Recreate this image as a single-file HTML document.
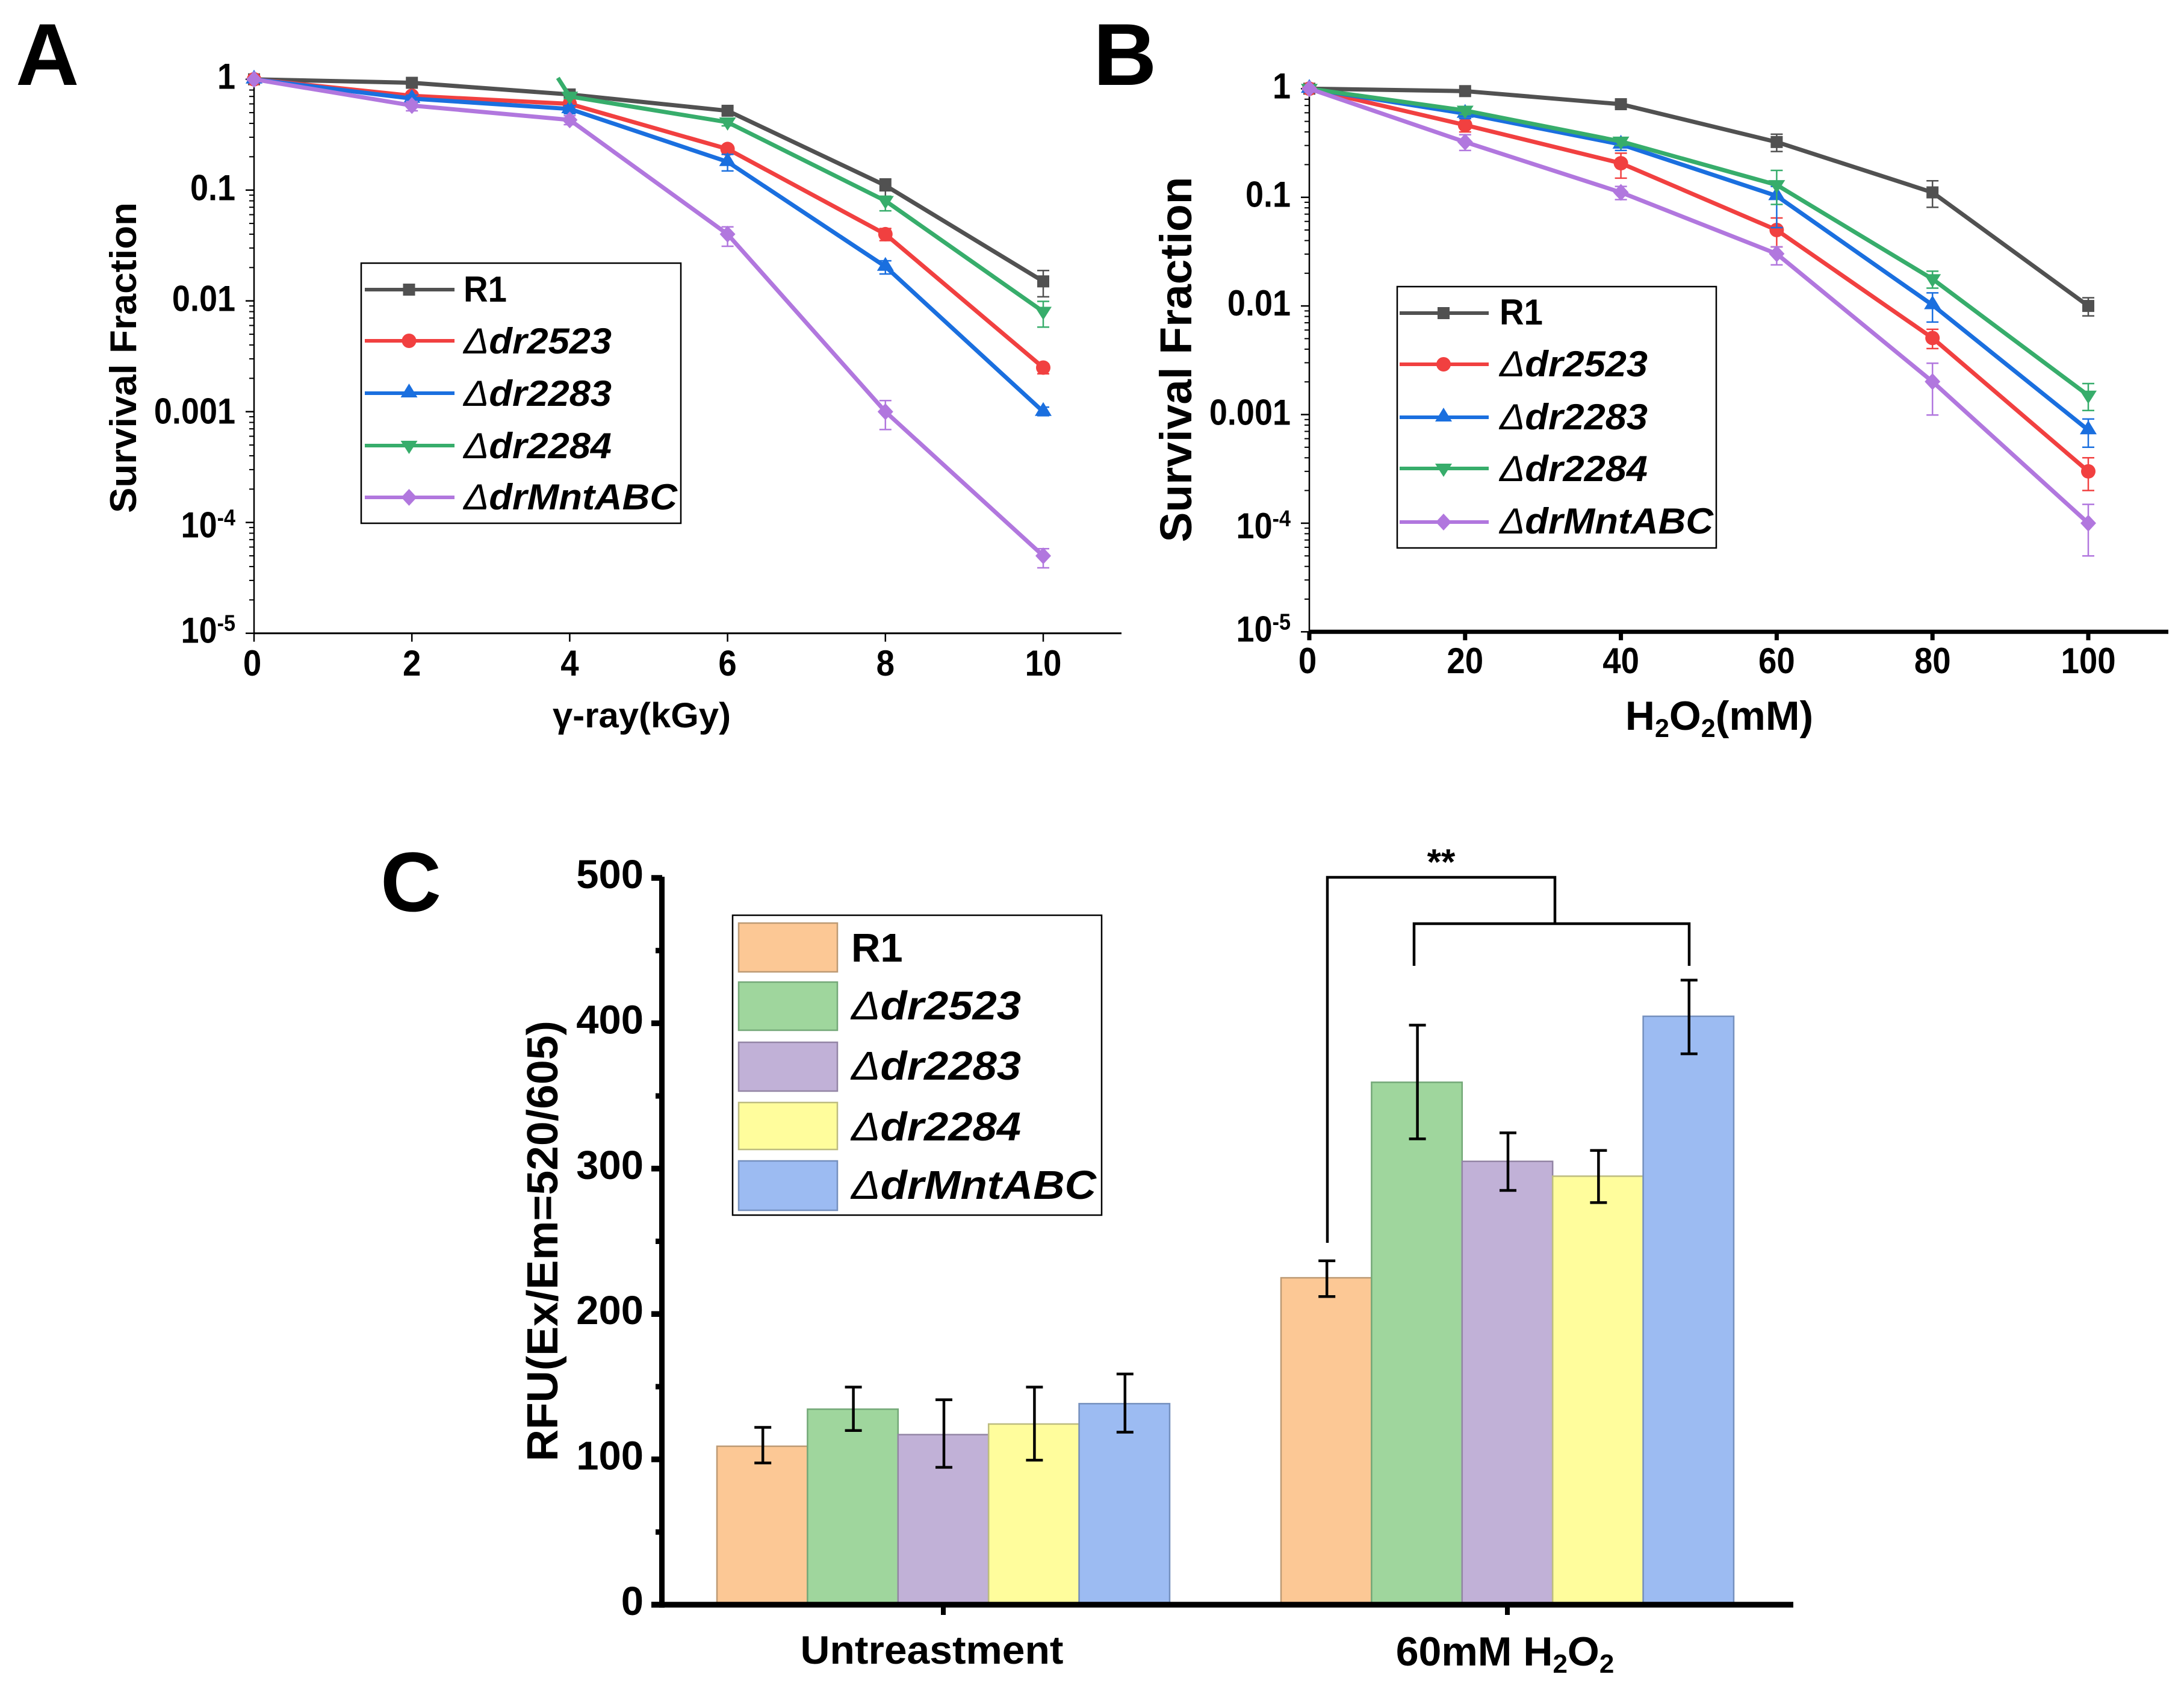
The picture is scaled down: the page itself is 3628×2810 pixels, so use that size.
<!DOCTYPE html>
<html lang="en">
<head>
<meta charset="utf-8">
<title>Survival fraction and RFU charts</title>
<style>
html,body{margin:0;padding:0;background:#fff;}
svg{display:block;}
text{font-family:"Liberation Sans",sans-serif;font-weight:bold;fill:#000;}
.it{font-style:italic;}
.thin{font-weight:normal;}
</style>
</head>
<body>
<svg id="fig" xmlns="http://www.w3.org/2000/svg" width="3628" height="2810" viewBox="0 0 3628 2810">
  <rect x="0" y="0" width="3628" height="2810" fill="#ffffff"/>

  <text x="26" y="141" font-size="146">A</text>
  <text x="1816" y="141" font-size="146">B</text>
  <text x="632" y="1513" font-size="140">C</text>

  <g id="panelA"></g>
  <g id="panelB"></g>
  <g id="panelC"></g>

  <text transform="translate(226,594) rotate(-90)" text-anchor="middle" font-size="62" textLength="516" lengthAdjust="spacingAndGlyphs">Survival Fraction</text>
  <text x="1066" y="1208" text-anchor="middle" font-size="58" textLength="296" lengthAdjust="spacingAndGlyphs">γ-ray(kGy)</text>
  <text transform="translate(1979,597) rotate(-90)" text-anchor="middle" font-size="74" textLength="607" lengthAdjust="spacingAndGlyphs">Survival Fraction</text>
  <text x="2856" y="1212" text-anchor="middle" font-size="68">H<tspan font-size="43" dy="12">2</tspan><tspan dy="-12">O</tspan><tspan font-size="43" dy="12">2</tspan><tspan dy="-12">(mM)</tspan></text>
  <text transform="translate(926,2061) rotate(-90)" text-anchor="middle" font-size="72" textLength="732" lengthAdjust="spacingAndGlyphs">RFU(Ex/Em=520/605)</text>
  <text x="1548" y="2763" text-anchor="middle" font-size="66" textLength="437" lengthAdjust="spacingAndGlyphs">Untreastment</text>
  <text x="2500" y="2766" text-anchor="middle" font-size="68">60mM H<tspan font-size="44" dy="12">2</tspan><tspan dy="-12">O</tspan><tspan font-size="44" dy="12">2</tspan></text>

  <g>
    <rect x="600" y="437" width="531" height="432" fill="#fff" stroke="#000" stroke-width="2.5"/>
    <g id="legendHandlesA"></g>
    <text x="770" y="501" font-size="60" textLength="72" lengthAdjust="spacingAndGlyphs">R1</text>
    <text class="it" x="770" y="587" font-size="60" textLength="246" lengthAdjust="spacingAndGlyphs"><tspan class="thin">Δ</tspan>dr2523</text>
    <text class="it" x="770" y="674" font-size="60" textLength="246" lengthAdjust="spacingAndGlyphs"><tspan class="thin">Δ</tspan>dr2283</text>
    <text class="it" x="770" y="761" font-size="60" textLength="246" lengthAdjust="spacingAndGlyphs"><tspan class="thin">Δ</tspan>dr2284</text>
    <text class="it" x="770" y="846" font-size="60" textLength="355" lengthAdjust="spacingAndGlyphs"><tspan class="thin">Δ</tspan>drMntABC</text>
  </g>

  <g>
    <rect x="2321" y="476" width="530" height="434" fill="#fff" stroke="#000" stroke-width="2.5"/>
    <g id="legendHandlesB"></g>
    <text x="2491" y="539" font-size="60" textLength="72" lengthAdjust="spacingAndGlyphs">R1</text>
    <text class="it" x="2491" y="625" font-size="60" textLength="246" lengthAdjust="spacingAndGlyphs"><tspan class="thin">Δ</tspan>dr2523</text>
    <text class="it" x="2491" y="713" font-size="60" textLength="246" lengthAdjust="spacingAndGlyphs"><tspan class="thin">Δ</tspan>dr2283</text>
    <text class="it" x="2491" y="799" font-size="60" textLength="246" lengthAdjust="spacingAndGlyphs"><tspan class="thin">Δ</tspan>dr2284</text>
    <text class="it" x="2491" y="886" font-size="60" textLength="355" lengthAdjust="spacingAndGlyphs"><tspan class="thin">Δ</tspan>drMntABC</text>
  </g>

  <g>
    <rect x="1217" y="1520" width="613" height="498" fill="#fff" stroke="#000" stroke-width="2.5"/>
    <rect x="1227" y="1533" width="164" height="81" fill="#FCC895" stroke="#BD9A74" stroke-width="2.5"/>
    <rect x="1227" y="1631" width="164" height="80" fill="#9FD69D" stroke="#74A878" stroke-width="2.5"/>
    <rect x="1227" y="1731" width="164" height="81" fill="#C1B1D7" stroke="#9385A5" stroke-width="2.5"/>
    <rect x="1227" y="1831" width="164" height="78" fill="#FFFD9C" stroke="#BDBC80" stroke-width="2.5"/>
    <rect x="1227" y="1928" width="164" height="82" fill="#9CBBF2" stroke="#7590BE" stroke-width="2.5"/>
    <text x="1414" y="1597" font-size="67">R1</text>
    <text class="it" x="1414" y="1693" font-size="67" textLength="282" lengthAdjust="spacingAndGlyphs"><tspan class="thin">Δ</tspan>dr2523</text>
    <text class="it" x="1414" y="1793" font-size="67" textLength="282" lengthAdjust="spacingAndGlyphs"><tspan class="thin">Δ</tspan>dr2283</text>
    <text class="it" x="1414" y="1894" font-size="67" textLength="282" lengthAdjust="spacingAndGlyphs"><tspan class="thin">Δ</tspan>dr2284</text>
    <text class="it" x="1414" y="1991" font-size="67" textLength="407" lengthAdjust="spacingAndGlyphs"><tspan class="thin">Δ</tspan>drMntABC</text>
  </g>

  <g fill="none" stroke="#000" stroke-width="4.5">
    <polyline points="2205,2064 2205,1457 2583,1457 2583,1534"/>
    <polyline points="2349,1604 2349,1534 2806,1534 2806,1604"/>
  </g>
  <text x="2394" y="1452" text-anchor="middle" font-size="60">**</text>
</svg>

<script>
/* ---------- shared ---------- */
const seriesNames = ['r1', 'dr2523', 'dr2283', 'dr2284', 'drmntabc'];
const seriesColors = ['#515151', '#F14040', '#1A6FDF', '#37AD6B', '#B177DE'];
const seriesMarkers = ['square', 'circle', 'triangle', 'triangle-down', 'diamond'];

/* ---------- panel A: gamma-ray survival ---------- */
const gammaTicks = [0, 2, 4, 6, 8, 10];
const gammaR1Dose = [0, 2, 4, 6, 8, 10];
const gammaR1 = [1, 0.93, 0.73, 0.52, 0.11, 0.015];
const gammaR1Hi = [1, 0.96, 0.77, 0.56, 0.126, 0.0188];
const gammaR1Lo = [1, 0.89, 0.69, 0.48, 0.0877, 0.0109];
const gammaDr2523Dose = [0, 2, 4, 6, 8, 10];
const gammaDr2523 = [1, 0.71, 0.6, 0.235, 0.04, 0.0025];
const gammaDr2523Hi = [1, 0.76, 0.64, 0.25, 0.045, 0.0027];
const gammaDr2523Lo = [1, 0.66, 0.56, 0.21, 0.035, 0.0022];
const gammaDr2283Dose = [0, 2, 4, 6, 8, 10];
const gammaDr2283 = [1, 0.67, 0.54, 0.18, 0.0204, 0.001];
const gammaDr2283Hi = [1, 0.72, 0.58, 0.21, 0.023, 0.0011];
const gammaDr2283Lo = [1, 0.6, 0.49, 0.149, 0.0175, 0.00092];
const gammaDr2284Dose = [3.85, 4, 6, 8, 10];
const gammaDr2284 = [1.03, 0.7, 0.41, 0.08, 0.008];
const gammaDr2284Hi = [1.03, 0.73, 0.43, 0.088, 0.0099];
const gammaDr2284Lo = [1.03, 0.67, 0.38, 0.065, 0.0058];
const gammaMnt = [1, 0.58, 0.43, 0.04, 0.001, 0.00005];
const gammaMntDose = [0, 2, 4, 6, 8, 10];
const gammaMntHi = [1, 0.63, 0.47, 0.0466, 0.00126, 0.000058];
const gammaMntLo = [1, 0.52, 0.39, 0.0311, 0.00069, 0.000039];

/* ---------- panel B: H2O2 survival ---------- */
const peroxideTicks = [0, 20, 40, 60, 80, 100];
const peroxideDose = [0, 20, 40, 60, 80, 100];
const peroxideR1 = [1, 0.95, 0.72, 0.323, 0.111, 0.01];
const peroxideR1Hi = [1, 0.98, 0.76, 0.381, 0.142, 0.0119];
const peroxideR1Lo = [1, 0.92, 0.68, 0.264, 0.081, 0.0081];
const peroxideDr2523 = [1, 0.463, 0.206, 0.05, 0.00507, 0.0003];
const peroxideDr2523Hi = [1, 0.53, 0.255, 0.0645, 0.0061, 0.0004];
const peroxideDr2523Lo = [1, 0.4, 0.15, 0.035, 0.00405, 0.0002];
const peroxideDr2283 = [1, 0.59, 0.307, 0.103, 0.0102, 0.00072];
const peroxideDr2283Hi = [1, 0.66, 0.34, 0.126, 0.0132, 0.00091];
const peroxideDr2283Lo = [1, 0.53, 0.27, 0.0526, 0.0071, 0.0005];
const peroxideDr2284 = [1, 0.63, 0.327, 0.13, 0.0177, 0.0015];
const peroxideDr2284Hi = [1, 0.68, 0.35, 0.177, 0.0209, 0.00193];
const peroxideDr2284Lo = [1, 0.58, 0.3, 0.086, 0.0146, 0.00109];
const peroxideMnt = [1, 0.323, 0.111, 0.0302, 0.00201, 0.0001];
const peroxideMntHi = [1, 0.377, 0.126, 0.035, 0.00297, 0.000149];
const peroxideMntLo = [1, 0.27, 0.0953, 0.0239, 0.00099, 0.00005];

/* ---------- shared log axis labels ---------- */
const logTickValues = [1, 0.1, 0.01, 0.001, 0.0001, 0.00001];
const logTickBases = ['1', '0.1', '0.01', '0.001', '10', '10'];
const logTickExponents = ['', '', '', '', '-4', '-5'];
const logMinorMultipliers = [2, 3, 4, 5, 6, 7, 8, 9];

/* ---------- panel C: RFU bars ---------- */
const rfuCategories = ['untreated', 'h2o2'];
const rfuTicks = [0, 100, 200, 300, 400, 500];
const rfuMinorTicks = [50, 150, 250, 350, 450];
const rfuUntreated = [109, 134.5, 117, 124.3, 138.3];
const rfuUntreatedHi = [122, 149.7, 141, 149.7, 158.7];
const rfuUntreatedLo = [97.5, 119.8, 94.5, 99.4, 118.7];
const rfuPeroxide = [224.9, 359.4, 305, 294.8, 404.8];
const rfuPeroxideHi = [236.6, 398.7, 324.6, 312.5, 429.7];
const rfuPeroxideLo = [212, 320.5, 285, 276.6, 379];
const barFills = ['#FCC895', '#9FD69D', '#C1B1D7', '#FFFD9C', '#9CBBF2'];
const barStrokes = ['#BD9A74', '#74A878', '#9385A5', '#BDBC80', '#7590BE'];

const NS = 'http://www.w3.org/2000/svg';
function mk(parent, tag, attrs) {
  const el = document.createElementNS(NS, tag);
  for (const k in attrs) el.setAttribute(k, attrs[k]);
  parent.appendChild(el);
  return el;
}
function seg(parent, name, x1, y1, x2, y2, color, w) {
  const el = mk(parent, 'line', { x1: x1, y1: y1, x2: x2, y2: y2, stroke: color, 'stroke-width': w });
  
  
  return el;
}
function label(parent, name, x, y, txt, anchor, size, sx) {
  const el = mk(parent, 'text', { transform: 'translate(' + x + ',' + y + ') scale(' + sx + ',1)', 'text-anchor': anchor, 'font-size': size });
  el.textContent = txt;
  
  
  return el;
}
function marker(parent, name, kind, cx, cy, color) {
  let el;
  if (kind === 'square') {
    el = mk(parent, 'rect', { x: cx - 10, y: cy - 10, width: 20, height: 20, fill: color });
  } else if (kind === 'circle') {
    el = mk(parent, 'circle', { cx: cx, cy: cy, r: 12, fill: color });
  } else if (kind === 'triangle') {
    el = mk(parent, 'polygon', { points: (cx - 14) + ',' + (cy + 7) + ' ' + (cx + 14) + ',' + (cy + 7) + ' ' + cx + ',' + (cy - 16), fill: color });
  } else if (kind === 'triangle-down') {
    el = mk(parent, 'polygon', { points: (cx - 14) + ',' + (cy - 8) + ' ' + (cx + 14) + ',' + (cy - 8) + ' ' + cx + ',' + (cy + 14), fill: color });
  } else {
    el = mk(parent, 'polygon', { points: cx + ',' + (cy - 14) + ' ' + (cx + 13) + ',' + cy + ' ' + cx + ',' + (cy + 14) + ' ' + (cx - 13) + ',' + cy, fill: color });
  }
  
  
  return el;
}

function drawLogPanel(rootId, cfg, series) {
  const root = document.getElementById(rootId);
  const xS = v => cfg.x0 + (v - cfg.xMin) * cfg.pxPerX;
  const yS = v => cfg.yTop + (-Math.log10(v)) * cfg.pxPerDecade;
  const yBottom = yS(0.00001);

  // axes
  seg(root, cfg.prefix + '-y-axis', cfg.x0, cfg.yTop - 1, cfg.x0, yBottom, '#000', 2.5);
  seg(root, cfg.prefix + '-x-axis', cfg.x0, yBottom, cfg.xEnd, yBottom, '#000', cfg.xAxisW);

  // x ticks
  cfg.xTicks.forEach(function (t) {
    seg(root, cfg.prefix + '-x-tick', xS(t), yBottom, xS(t), yBottom + 14, '#000', cfg.xTickW);
    label(root, cfg.prefix + '-x-tick-label', xS(t) - (t === 0 ? 3 : 0), cfg.xLabelY, String(t), 'middle', 60, 0.91);
  });

  // y ticks
  logTickValues.forEach(function (v, i) {
    const y = yS(v);
    seg(root, cfg.prefix + '-y-major-tick', cfg.x0 - 14, y, cfg.x0, y, '#000', 2.5);
    const t = label(root, cfg.prefix + '-y-tick-label', cfg.yLabelRight, y + cfg.yLabelOffset[i], logTickBases[i], 'end', 60, 0.9);
    if (logTickExponents[i]) {
      const sup = mk(t, 'tspan', { 'font-size': 38, dy: -20 });
      sup.textContent = logTickExponents[i];
    }
    if (i < logTickValues.length - 1) {
      logMinorMultipliers.forEach(function (m) {
        const ym = yS(v / 10 * m);
        seg(root, cfg.prefix + '-y-minor-tick', cfg.x0 - 8, ym, cfg.x0, ym, '#000', 2);
      });
    }
  });

  // series
  series.forEach(function (s, si) {
    const color = seriesColors[si];
    const g = mk(root, 'g', {});
    
    
    s.values.forEach(function (v, i) {
      if (s.hi[i] === v && s.lo[i] === v) return;
      const x = xS(s.dose[i]);
      seg(g, cfg.prefix + '-error-bar', x, yS(s.hi[i]), x, yS(s.lo[i]), color, 2.5);
      seg(g, cfg.prefix + '-error-cap', x - 10, yS(s.hi[i]), x + 10, yS(s.hi[i]), color, 2.5);
      seg(g, cfg.prefix + '-error-cap', x - 10, yS(s.lo[i]), x + 10, yS(s.lo[i]), color, 2.5);
    });
    const pts = s.values.map(function (v, i) { return xS(s.dose[i]) + ',' + yS(v); }).join(' ');
    const line = mk(g, 'polyline', { points: pts, fill: 'none', stroke: color, 'stroke-width': 7, 'stroke-linejoin': 'round' });
    
    
    s.values.forEach(function (v, i) {
      if (cfg.xTicks.indexOf(s.dose[i]) < 0) return;
      marker(g, cfg.prefix + '-point-' + seriesNames[si], seriesMarkers[si], xS(s.dose[i]), yS(v), color);
    });
  });
}

function drawLegendHandles(id, prefix, x1, x2, ys) {
  const g = document.getElementById(id);
  seriesNames.forEach(function (name, i) {
    seg(g, prefix + '-handle-line-' + name, x1, ys[i], x2, ys[i], seriesColors[i], 6);
    marker(g, prefix + '-handle-marker-' + name, seriesMarkers[i], (x1 + x2) / 2 - 1, ys[i], seriesColors[i]);
  });
}

drawLogPanel('panelA', {
  prefix: 'panel-a', x0: 422, xMin: 0, pxPerX: 131.1, xEnd: 1863, yTop: 131.7, pxPerDecade: 184,
  xAxisW: 3, xTickW: 2.5, xTicks: gammaTicks, xLabelY: 1122, yLabelRight: 391,
  yLabelOffset: [16, 17, 17, 20, 25, 16]
}, [
  { dose: gammaR1Dose, values: gammaR1, hi: gammaR1Hi, lo: gammaR1Lo },
  { dose: gammaDr2523Dose, values: gammaDr2523, hi: gammaDr2523Hi, lo: gammaDr2523Lo },
  { dose: gammaDr2283Dose, values: gammaDr2283, hi: gammaDr2283Hi, lo: gammaDr2283Lo },
  { dose: gammaDr2284Dose, values: gammaDr2284, hi: gammaDr2284Hi, lo: gammaDr2284Lo },
  { dose: gammaMntDose, values: gammaMnt, hi: gammaMntHi, lo: gammaMntLo }
]);

drawLogPanel('panelB', {
  prefix: 'panel-b', x0: 2175, xMin: 0, pxPerX: 12.94, xEnd: 3602, yTop: 147.3, pxPerDecade: 180.4,
  xAxisW: 7, xTickW: 7, xTicks: peroxideTicks, xLabelY: 1118, yLabelRight: 2144,
  yLabelOffset: [16, 16, 16, 17, 25, 16]
}, [
  { dose: peroxideDose, values: peroxideR1, hi: peroxideR1Hi, lo: peroxideR1Lo },
  { dose: peroxideDose, values: peroxideDr2523, hi: peroxideDr2523Hi, lo: peroxideDr2523Lo },
  { dose: peroxideDose, values: peroxideDr2283, hi: peroxideDr2283Hi, lo: peroxideDr2283Lo },
  { dose: peroxideDose, values: peroxideDr2284, hi: peroxideDr2284Hi, lo: peroxideDr2284Lo },
  { dose: peroxideDose, values: peroxideMnt, hi: peroxideMntHi, lo: peroxideMntLo }
]);

drawLegendHandles('legendHandlesA', 'panel-a-legend', 606, 755, [481, 566, 653, 740, 826]);
drawLegendHandles('legendHandlesB', 'panel-b-legend', 2325, 2473, [520, 605, 693, 778, 867]);

/* panel C */
(function () {
  const root = document.getElementById('panelC');
  const y0 = 2665, pxPerUnit = 2.414;
  const yS = v => y0 - v * pxPerUnit;
  const groupLeft = [1191, 2128];
  const barW = 150.4;
  const groups = [
    { values: rfuUntreated, hi: rfuUntreatedHi, lo: rfuUntreatedLo },
    { values: rfuPeroxide, hi: rfuPeroxideHi, lo: rfuPeroxideLo }
  ];
  groups.forEach(function (gr, gi) {
    gr.values.forEach(function (v, i) {
      const x = groupLeft[gi] + i * barW;
      const bar = mk(root, 'rect', { x: x, y: yS(v), width: barW, height: y0 - yS(v), fill: barFills[i], stroke: barStrokes[i], 'stroke-width': 2.5 });
      
      
    });
  });
  groups.forEach(function (gr, gi) {
    gr.values.forEach(function (v, i) {
      const cx = groupLeft[gi] + (i + 0.5) * barW + 1;
      seg(root, 'error-bar-' + rfuCategories[gi] + '-' + seriesNames[i], cx, yS(gr.hi[i]), cx, yS(gr.lo[i]), '#000', 4.5);
      seg(root, 'error-cap', cx - 14, yS(gr.hi[i]), cx + 14, yS(gr.hi[i]), '#000', 4.5);
      seg(root, 'error-cap', cx - 14, yS(gr.lo[i]), cx + 14, yS(gr.lo[i]), '#000', 4.5);
    });
  });
  seg(root, 'panel-c-y-axis', 1099.5, 1456, 1099.5, 2670, '#000', 9);
  seg(root, 'panel-c-x-axis', 1082, y0, 2979, y0, '#000', 9.5);
  rfuTicks.forEach(function (t) {
    seg(root, 'panel-c-y-major-tick', 1082, yS(t), 1100, yS(t), '#000', 9.5);
    label(root, 'panel-c-y-tick-label', 1069, yS(t) + 17, String(t), 'end', 67, 1);
  });
  rfuMinorTicks.forEach(function (t) {
    seg(root, 'panel-c-y-minor-tick', 1089, yS(t), 1100, yS(t), '#000', 9);
  });
  groupLeft.forEach(function (left, gi) {
    const cx = left + 2.5 * barW;
    seg(root, 'panel-c-x-tick-' + rfuCategories[gi], cx, y0, cx, 2682, '#000', 8);
  });
})();
</script>
</body>
</html>
